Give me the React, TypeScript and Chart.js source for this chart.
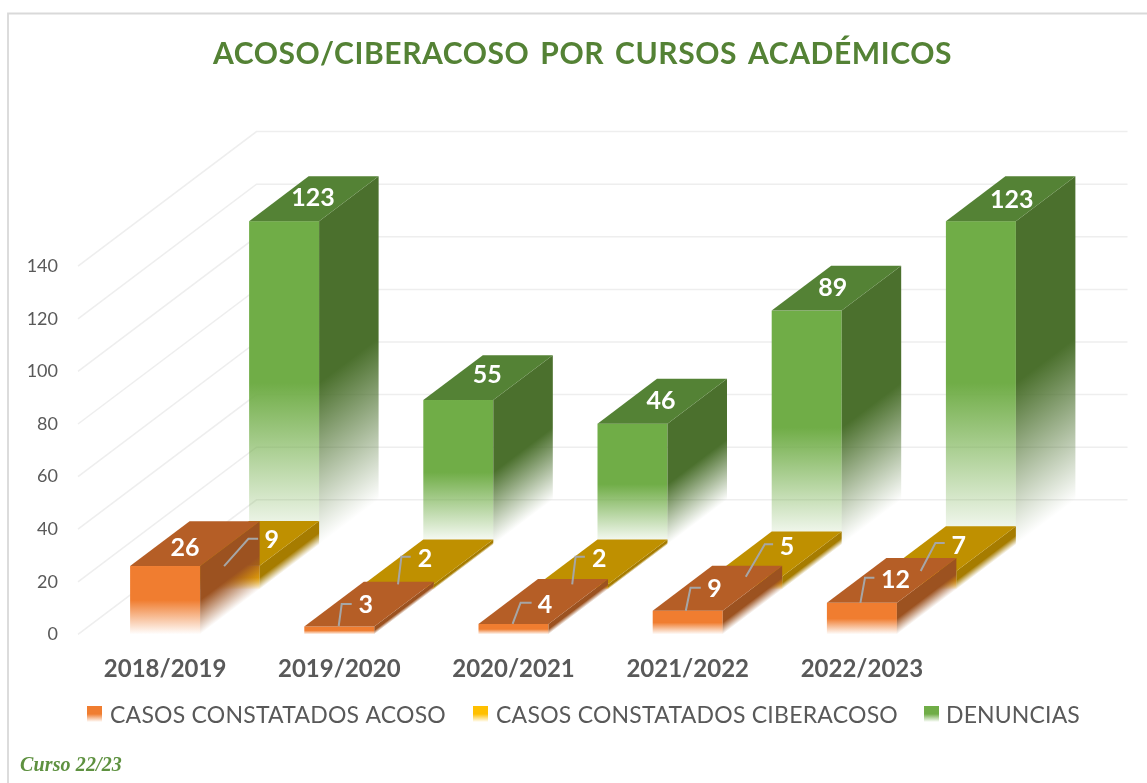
import React, { useEffect, useRef } from "react";
import { Chart, registerables, BarController } from "chart.js";

const categories = ["2018/2019", "2019/2020", "2020/2021", "2021/2022", "2022/2023"];
const seriesNames = ["CASOS CONSTATADOS ACOSO", "CASOS CONSTATADOS CIBERACOSO", "DENUNCIAS"];
const acoso = [26, 3, 4, 9, 12];
const ciberacoso = [9, 2, 2, 5, 7];
const denuncias = [123, 55, 46, 89, 123];
const yTicksMax = 140;
const yTicksStep = 20;

const TITLE = "ACOSO/CIBERACOSO POR CURSOS ACADÉMICOS";
const FOOTNOTE = "Curso 22/23";

const FONT = "Lato, Carlito, 'Open Sans', sans-serif";
const GREY = "#595959";

const frontColors = ["#F07D30", "#FFC000", "#70AD47"];
const topColors = ["#B55E26", "#BF9000", "#548235"];
const sideColors = ["#9C5220", "#A67C00", "#4B702D"];

// projection of one series step into the depth of the 3D box
const DEPTH_X = 59.5;
const DEPTH_Y = -44.87;
const BAR_W = 70;
const WALL_STEPS = 3;

type Off = [number, number];
type Lab = { t: Off; l?: [Off, Off, Off] };

// label placement relative to (bar centre, bar front top), per series/category
const labelLayout: Lab[][] = [
  [
    { t: [20, -19] },
    { t: [26.4, -22.5], l: [[-0.6, -0.5], [2.4, -22.5], [12.4, -22.5]] },
    { t: [31.4, -19.9], l: [[-0.9, 0], [7.1, -21.2], [18.1, -21.2]] },
    { t: [26.8, -22.4], l: [[-1.9, 0], [2.8, -23], [13.1, -23]] },
    { t: [33.5, -23.8], l: [[-1.5, 0], [3.1, -25], [12.5, -25]] },
  ],
  [
    { t: [47.2, -26.5], l: [[-0.5, 0.2], [23.8, -27.1], [33.5, -27.1]] },
    { t: [26.2, -25.9], l: [[-0.8, 0], [2.6, -27.5], [11.9, -27.5]] },
    { t: [26.2, -25.9], l: [[-0.8, 0], [2.6, -27.5], [11.9, -27.5]] },
    { t: [39.9, -30.4], l: [[-1.4, 0.3], [17.6, -32.1], [25.9, -32.1]] },
    { t: [37.3, -26.4], l: [[-0.7, -0.1], [14, -28.1], [23.3, -28.1]] },
  ],
  [
    { t: [29, -24] },
    { t: [29, -25.7] },
    { t: [28.4, -23.5] },
    { t: [26, -24] },
    { t: [30.8, -22] },
  ],
];

const legendLayout = [
  { swatch: 87, text: 110, width: 336 },
  { swatch: 473, text: 496, width: 402 },
  { swatch: 924, text: 946, width: 134 },
];

function fade(ctx: CanvasRenderingContext2D, y0: number, y1: number, hex: string) {
  const g = ctx.createLinearGradient(0, y0, 0, y1);
  g.addColorStop(0, hex);
  g.addColorStop(0.5, hex);
  g.addColorStop(1, hex + "00");
  return g;
}

class Bar3DController extends BarController {
  static id = "bar3d";
  draw() {
    const ctx = this.chart.ctx as CanvasRenderingContext2D;
    const s = this.index;
    const sx = s * DEPTH_X;
    const sy = s * DEPTH_Y;
    ctx.save();
    for (const el of this.getMeta().data as any[]) {
      const left = el.x - el.width / 2 + sx;
      const right = left + el.width;
      const top = el.y + sy;
      const bottom = el.base + sy;
      const h = bottom - top;

      ctx.fillStyle = fade(ctx, top, bottom, frontColors[s]);
      ctx.fillRect(left, top, el.width, h);

      ctx.save();
      ctx.transform(1, DEPTH_Y / DEPTH_X, 0, 1, right, top);
      ctx.fillStyle = fade(ctx, 0, h, sideColors[s]);
      ctx.fillRect(0, 0, DEPTH_X, h);
      ctx.restore();

      ctx.fillStyle = topColors[s];
      ctx.beginPath();
      ctx.moveTo(left, top);
      ctx.lineTo(right, top);
      ctx.lineTo(right + DEPTH_X, top + DEPTH_Y);
      ctx.lineTo(left + DEPTH_X, top + DEPTH_Y);
      ctx.closePath();
      ctx.fill();
    }
    ctx.restore();
  }
}

Chart.register(...registerables, Bar3DController as any);

const framePlugin = {
  id: "frame",
  beforeDraw(chart: any) {
    const { ctx, width, height } = chart;
    ctx.save();
    ctx.fillStyle = "#FFFFFF";
    ctx.fillRect(0, 0, width, height);
    ctx.strokeStyle = "#D9D9D9";
    ctx.lineWidth = 1.8;
    ctx.beginPath();
    ctx.moveTo(8, height);
    ctx.lineTo(8, 13.5);
    ctx.lineTo(width, 13.5);
    ctx.stroke();
    ctx.restore();
  },
};

const wallsPlugin = {
  id: "walls",
  beforeDatasetsDraw(chart: any) {
    const { ctx, chartArea, scales } = chart;
    const dx = DEPTH_X * WALL_STEPS;
    const dy = DEPTH_Y * WALL_STEPS;
    ctx.save();
    ctx.strokeStyle = "#EEEEEE";
    ctx.lineWidth = 1.5;
    for (const tick of scales.y.ticks) {
      const y = scales.y.getPixelForValue(tick.value);
      ctx.beginPath();
      ctx.moveTo(chartArea.left, y);
      ctx.lineTo(chartArea.left + dx, y + dy);
      ctx.lineTo(chartArea.right + dx, y + dy);
      ctx.stroke();
    }
    ctx.restore();
  },
};

const labelsPlugin = {
  id: "labels3d",
  afterDatasetsDraw(chart: any) {
    const { ctx } = chart;
    ctx.save();
    chart.data.datasets.forEach((ds: any, s: number) => {
      const meta = chart.getDatasetMeta(s);
      meta.data.forEach((el: any, i: number) => {
        const lay = labelLayout[s][i];
        const ax = el.x + s * DEPTH_X;
        const ay = el.y + s * DEPTH_Y;
        if (lay.l) {
          ctx.strokeStyle = "#A6A6A6";
          ctx.lineWidth = 2;
          ctx.beginPath();
          lay.l.forEach(([a, b], k) => {
            if (k === 0) ctx.moveTo(ax + a, ay + b);
            else ctx.lineTo(ax + a, ay + b);
          });
          ctx.stroke();
        }
        ctx.fillStyle = "#FFFFFF";
        ctx.font = `bold 25px ${FONT}`;
        ctx.textAlign = "center";
        ctx.textBaseline = "middle";
        ctx.fillText(String(ds.data[i]), ax + lay.t[0], ay + lay.t[1] + 1);
      });
    });
    ctx.restore();
  },
};

function spacedText(ctx: any, text: string, x: number, y: number, targetWidth: number, wordGap = 0) {
  ctx.letterSpacing = "0px";
  ctx.wordSpacing = `${wordGap}px`;
  const natural = ctx.measureText(text).width;
  ctx.letterSpacing = `${(targetWidth - natural) / text.length}px`;
  ctx.fillText(text, x, y);
  ctx.letterSpacing = "0px";
  ctx.wordSpacing = "0px";
}

const textPlugin = {
  id: "texts",
  afterDraw(chart: any) {
    const { ctx } = chart;
    ctx.save();
    ctx.textBaseline = "middle";
    ctx.textAlign = "left";

    ctx.fillStyle = "#548235";
    ctx.font = `bold 30px ${FONT}`;
    spacedText(ctx, TITLE, 213, 54, 739, 3);

    chart.data.datasets.forEach((ds: any, s: number) => {
      const lay = legendLayout[s];
      const g = ctx.createLinearGradient(0, 706, 0, 722);
      g.addColorStop(0, frontColors[s]);
      g.addColorStop(0.5, frontColors[s]);
      g.addColorStop(1, frontColors[s] + "00");
      ctx.fillStyle = g;
      ctx.fillRect(lay.swatch, 706, 15, 16);
      ctx.fillStyle = GREY;
      ctx.font = `23px ${FONT}`;
      spacedText(ctx, ds.label, lay.text, 716, lay.width);
    });

    ctx.fillStyle = "#5E9140";
    ctx.font = "italic bold 20px 'Liberation Serif', serif";
    spacedText(ctx, FOOTNOTE, 20, 766, 102);
    ctx.restore();
  },
};

export default function App() {
  const ref = useRef<HTMLCanvasElement>(null);
  useEffect(() => {
    if (!ref.current) return;
    const chart = new Chart(ref.current, {
      type: "bar3d" as any,
      data: {
        labels: categories,
        datasets: [
          { label: seriesNames[0], data: acoso, backgroundColor: frontColors[0], clip: false },
          { label: seriesNames[1], data: ciberacoso, backgroundColor: frontColors[1], clip: false },
          { label: seriesNames[2], data: denuncias, backgroundColor: frontColors[2], clip: false },
        ],
      },
      options: {
        responsive: false,
        animation: false,
        maintainAspectRatio: false,
        layout: { padding: { left: 28, right: 198, top: 266.2, bottom: 99.6 } },
        datasets: { bar3d: { barThickness: BAR_W, grouped: false } } as any,
        plugins: {
          legend: { display: false },
          title: { display: false },
          tooltip: { enabled: false },
        },
        scales: {
          x: {
            type: "category",
            offset: true,
            grid: { display: false, drawTicks: false },
            border: { display: false },
            afterFit: (s: any) => {
              s.height = 49;
            },
            ticks: {
              color: GREY,
              padding: 20.5,
              maxRotation: 0,
              autoSkip: false,
              font: { family: FONT, size: 24, weight: "bold" },
            },
          },
          y: {
            type: "linear",
            min: 0,
            max: yTicksMax,
            grid: { display: false, drawTicks: false },
            border: { display: false },
            afterFit: (s: any) => {
              s.width = 50;
            },
            ticks: {
              stepSize: yTicksStep,
              color: GREY,
              padding: 20,
              font: { family: FONT, size: 18 },
            },
          },
        },
      } as any,
      plugins: [framePlugin, wallsPlugin, labelsPlugin, textPlugin],
    });
    return () => chart.destroy();
  }, []);
  return (
    <div style={{ position: "fixed", left: 0, top: 0, width: 1147, height: 783 }}>
      <canvas ref={ref} width={1147} height={783} style={{ display: "block" }} />
    </div>
  );
}
